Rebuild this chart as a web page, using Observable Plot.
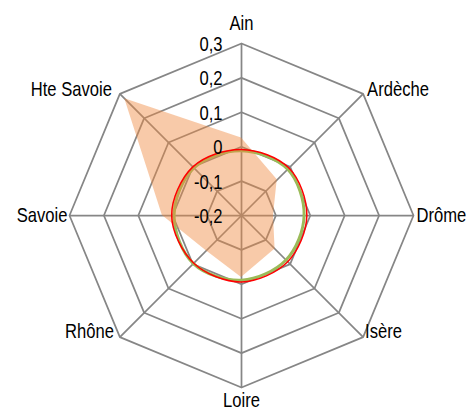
<!DOCTYPE html>
<html>
<head>
<meta charset="utf-8">
<script src="https://cdn.jsdelivr.net/npm/d3@7"></script>
<script src="https://cdn.jsdelivr.net/npm/@observablehq/plot@0.6"></script>
<style>
  html, body { margin: 0; padding: 0; background: #ffffff; }
  #chart svg { display: block; }
</style>
</head>
<body>
<div id="chart"></div>
<script>
// ---- Data ----
const categories = ["Ain", "Ardèche", "Drôme", "Isère", "Loire", "Rhône", "Savoie", "Hte Savoie"];
const tickValues = [-0.2, -0.1, 0, 0.1, 0.2, 0.3];
const tickLabels = ["-0,2", "-0,1", "0", "0,1", "0,2", "0,3"];
const orangeValues = [0.025, -0.053, -0.107, -0.062, -0.02, -0.055, 0.03, 0.28];
const redValues = [-0.008, -0.005, -0.01, -0.01, -0.007, -0.004, 0.003, 0.0];
const greenValues = [-0.012, -0.01, -0.018, -0.017, -0.012, -0.002, -0.004, -0.004];

// ---- Layout ----
const W = 474, H = 414, cx = 241, cy = 215, R = 172;
const vmin = tickValues[0], vmax = tickValues[tickValues.length - 1];
const n = categories.length;
const rad = v => (v - vmin) / (vmax - vmin);
const ang = i => i * 2 * Math.PI / n;
const px = (i, v) => rad(v) * Math.sin(ang(i));
const py = (i, v) => rad(v) * Math.cos(ang(i));

const ringData = [];
tickValues.slice(1).forEach(t => categories.forEach((c, i) => ringData.push({level: t, i})));
const series = vals => vals.map((v, i) => ({i, v}));

const font = "'Liberation Sans', Arial, sans-serif";
const fs = 20;
const narrow = 0.83;
const gridColor = "#868686";

const labelData = categories.map((c, i) => ({c, i}));
const lab = (idx, opts) => Plot.text(labelData.filter(d => idx.includes(d.i)), {
  x: d => px(d.i, vmax), y: d => py(d.i, vmax), text: "c",
  fontFamily: font, fontSize: fs, fill: "#000", lineAnchor: "middle", ...opts
});

const chart = Plot.plot({
  width: W, height: H, margin: 0,
  style: {background: "#ffffff", overflow: "visible"},
  x: {domain: [-cx / R, (W - cx) / R], axis: null},
  y: {domain: [-(H - cy) / R, cy / R], axis: null},
  marks: [
    Plot.line(ringData, {
      x: d => px(d.i, d.level), y: d => py(d.i, d.level), z: "level",
      curve: "linear-closed", stroke: gridColor, strokeWidth: 1.75
    }),
    Plot.link(categories, {
      x1: 0, y1: 0,
      x2: (d, i) => px(i, vmax), y2: (d, i) => py(i, vmax),
      stroke: gridColor, strokeWidth: 1.75
    }),
    Plot.line(series(greenValues), {
      x: d => px(d.i, d.v), y: d => py(d.i, d.v),
      curve: "catmull-rom-closed", stroke: "#9BBB59", strokeWidth: 3
    }),
    Plot.area(series(orangeValues), {
      x1: d => px(d.i, d.v), y1: d => py(d.i, d.v), x2: 0, y2: 0,
      curve: "linear-closed", fill: "#F08A40", fillOpacity: 0.45, stroke: "none"
    }),
    Plot.line(series(redValues), {
      x: d => px(d.i, d.v), y: d => py(d.i, d.v),
      curve: "catmull-rom-closed", stroke: "#FF0000", strokeWidth: 1.5
    }),
    Plot.text(tickValues.map((t, k) => ({t, s: tickLabels[k]})), {
      x: 0, y: d => rad(d.t), text: "s", textAnchor: "end", lineAnchor: "middle",
      dx: -19, dy: 1, fontFamily: font, fontSize: fs, fill: "#000"
    }),
    lab([0], {textAnchor: "middle", dy: -20}),
    lab([1], {textAnchor: "start", dx: 4, dy: -4}),
    lab([2], {textAnchor: "start", dx: 3, dy: 0}),
    lab([3], {textAnchor: "start", dx: 2, dy: -6}),
    lab([4], {textAnchor: "middle", dy: 13}),
    lab([5], {textAnchor: "end", dx: -6, dy: -6}),
    lab([6], {textAnchor: "end", dx: -2, dy: 0}),
    lab([7], {textAnchor: "end", dx: -8, dy: -4})
  ]
});

// Condense the text horizontally (the reference uses a narrow typeface)
d3.select(chart).selectAll("text").each(function () {
  const x = +this.getAttribute("x") || 0, y = +this.getAttribute("y") || 0;
  const t = this.getAttribute("transform") || "";
  this.setAttribute("transform", `${t} translate(${x},${y}) scale(${narrow},1) translate(${-x},${-y})`);
});

document.getElementById("chart").appendChild(chart);
</script>
</body>
</html>
